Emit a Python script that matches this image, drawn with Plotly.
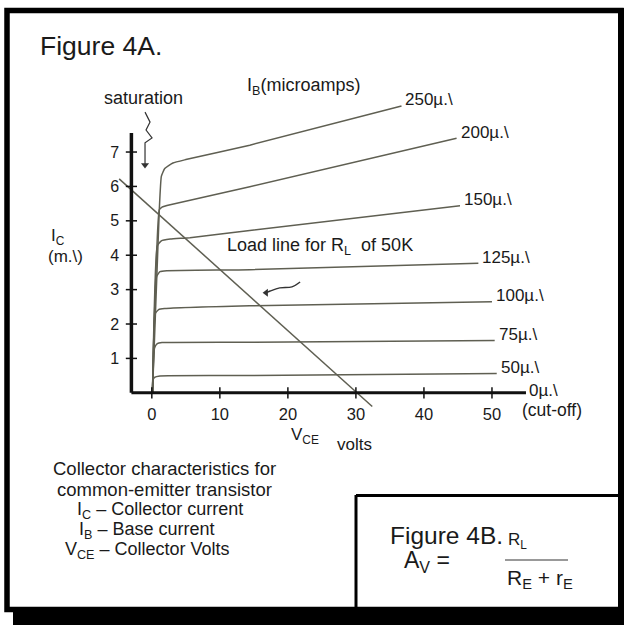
import plotly.graph_objects as go

# ---------------- data ----------------
vce_250 = [0.1, 1.1, 1.4, 1.9, 3.1, 5.0, 14.4, 36.7]
ic_250 = [0.0, 5.32, 6.29, 6.52, 6.68, 6.78, 7.20, 8.34]
vce_200 = [0.1, 1.1, 1.5, 2.7, 14.4, 44.8]
ic_200 = [0.0, 5.32, 5.40, 5.47, 5.99, 7.40]
vce_150 = [0.1, 0.8, 1.4, 2.7, 5.6, 14.4, 45.3]
ic_150 = [0.0, 4.27, 4.42, 4.47, 4.51, 4.72, 5.44]
vce_125 = [0.1, 0.7, 1.2, 2.2, 14.4, 48.0]
ic_125 = [0.0, 3.38, 3.52, 3.55, 3.58, 3.77]
vce_100 = [0.1, 0.5, 1.0, 1.9, 14.4, 50.0]
ic_100 = [0.0, 2.30, 2.42, 2.45, 2.53, 2.65]
vce_75 = [0.1, 0.4, 0.8, 1.5, 14.4, 50.4]
ic_75 = [0.0, 1.30, 1.43, 1.46, 1.47, 1.52]
vce_50 = [0.1, 0.15, 0.4, 1.2, 14.4, 50.7]
ic_50 = [0.0, 0.36, 0.45, 0.49, 0.50, 0.56]
vce_0 = [54.9]
ic_0 = [0.0]

ib_labels = ["250\u00b5.\\", "200\u00b5.\\", "150\u00b5.\\", "125\u00b5.\\",
             "100\u00b5.\\", "75\u00b5.\\", "50\u00b5.\\", "0\u00b5.\\"]

load_v = [-4.8, 32.4]
load_i = [6.22, -0.40]

x_ticks = [0, 10, 20, 30, 40, 50]
y_ticks = [1, 2, 3, 4, 5, 6, 7]
axis_v = [-3, 55]
axis_i_top = 7.55

sat_v = [-1.0, -0.26, -0.85, 0.03, -1.0, -1.0]
sat_i = [8.16, 7.87, 7.64, 7.41, 7.27, 6.62]
arr_v = [21.8, 20.6, 18.8, 17.4, 16.8]
arr_i = [3.22, 3.08, 3.05, 2.96, 2.91]

# ---------------- layout geometry ----------------
W_FIG, H_FIG = 624, 625
L, T, W, H = 111, 97, 449, 313
X_RANGE = [-6, 60]
Y_RANGE = [-0.5, 8.6]


def px(x):
    return (x - L) / W


def py(y):
    return (T + H - y) / H


CURVE = "#5f5f52"
TXT = "#1a1a1a"
FONT = "Liberation Sans, Arial, Helvetica, sans-serif"

fig = go.Figure()

curves = [(vce_250, ic_250), (vce_200, ic_200), (vce_150, ic_150), (vce_125, ic_125),
          (vce_100, ic_100), (vce_75, ic_75), (vce_50, ic_50)]
for v, i in curves:
    fig.add_trace(go.Scatter(x=v, y=i, mode="lines",
                             line=dict(color=CURVE, width=1.5, shape="spline", smoothing=0.4),
                             hoverinfo="skip", showlegend=False))

# load line
fig.add_trace(go.Scatter(x=load_v, y=load_i, mode="lines",
                         line=dict(color=CURVE, width=1.5), showlegend=False, hoverinfo="skip"))

# axes lines
fig.add_trace(go.Scatter(x=axis_v, y=[0, 0], mode="lines",
                         line=dict(color="#111", width=3), showlegend=False, hoverinfo="skip"))
fig.add_trace(go.Scatter(x=[axis_v[0], axis_v[0]], y=[0, axis_i_top], mode="lines",
                         line=dict(color="#111", width=3.5), showlegend=False, hoverinfo="skip"))
# cross ticks
fig.add_trace(go.Scatter(x=x_ticks, y=[0] * len(x_ticks), mode="markers",
                         marker=dict(symbol="line-ns", size=8, line=dict(color="#111", width=1.5)),
                         showlegend=False, hoverinfo="skip"))
fig.add_trace(go.Scatter(x=[axis_v[0]] * len(y_ticks), y=y_ticks, mode="markers",
                         marker=dict(symbol="line-ew", size=8, line=dict(color="#111", width=1.5)),
                         showlegend=False, hoverinfo="skip"))

# saturation squiggle arrow
fig.add_trace(go.Scatter(x=sat_v, y=sat_i, mode="lines",
                         line=dict(color="#333", width=1.2), showlegend=False, hoverinfo="skip"))
fig.add_trace(go.Scatter(x=[sat_v[-1]], y=[sat_i[-1]], mode="markers",
                         marker=dict(symbol="triangle-down", size=7, color="#333"),
                         showlegend=False, hoverinfo="skip"))
# load line pointer arrow
fig.add_trace(go.Scatter(x=arr_v, y=arr_i, mode="lines",
                         line=dict(color="#333", width=1.4, shape="spline"), showlegend=False, hoverinfo="skip"))
fig.add_trace(go.Scatter(x=[arr_v[-1]], y=[arr_i[-1]], mode="markers",
                         marker=dict(symbol="triangle-left", size=7, color="#333"),
                         showlegend=False, hoverinfo="skip"))

annotations = []

# curve labels at the end of each curve
ends = [(v[-1], i[-1]) for v, i in curves] + [(vce_0[-1], ic_0[-1])]
for k, ((ve, ie), lab) in enumerate(zip(ends, ib_labels)):
    annotations.append(dict(x=ve, y=ie, xref="x", yref="y", text=lab, showarrow=False,
                            xanchor="left", yanchor="middle", xshift=2,
                            yshift=(2 if k == len(ends) - 1 else 6),
                            font=dict(size=17, color=TXT, family=FONT)))


def txt(x, y, s, size=17, anchor="left"):
    annotations.append(dict(x=px(x), y=py(y), xref="paper", yref="paper", text=s,
                            showarrow=False, xanchor=anchor, yanchor="middle",
                            font=dict(size=size, color=TXT, family=FONT)))


txt(38, 46, "Figure 4A.", 26.5)
txt(245, 86, "I<sub>B</sub>(microamps)", 18)
txt(102, 98, "saturation", 18)
txt(58, 237, "I<sub>C</sub>", 17, "center")
txt(65, 256, "(m.\\)", 17, "center")
txt(225, 246, "Load line for R<sub>L</sub>  of 50K", 18)
txt(520, 410, "(cut-off)", 17.5)
txt(289, 436, "V<sub>CE</sub>", 17)
txt(335, 444, "volts", 17)
txt(164, 469, "Collector characteristics for", 18.5, "center")
txt(164, 489, "common-emitter transistor", 18.5, "center")
txt(75, 510, "I<sub>C</sub> \u2013 Collector current", 18)
txt(77, 530, "I<sub>B</sub> \u2013 Base current", 18)
txt(63, 550, "V<sub>CE</sub> \u2013 Collector Volts", 18)
txt(388, 535, "Figure 4B.", 24.5)
txt(506, 541, "R<sub>L</sub>", 17)
txt(402, 561, "A<sub>V</sub> =", 23)
txt(505, 579, "R<sub>E</sub> + r<sub>E</sub>", 21)

shapes = [
    # outer frame
    dict(type="rect", xref="paper", yref="paper", x0=px(7), x1=px(621), y0=py(609.5), y1=py(10.5),
         line=dict(color="#000", width=5.5)),
    # bottom shadow
    dict(type="rect", xref="paper", yref="paper", x0=px(13), x1=px(630), y0=py(630), y1=py(611),
         line=dict(width=0), fillcolor="#000"),
    # right edge strip
    dict(type="rect", xref="paper", yref="paper", x0=px(618), x1=px(630), y0=py(630), y1=py(8),
         line=dict(width=0), fillcolor="#000"),
    # figure 4B box
    dict(type="line", xref="paper", yref="paper", x0=px(356), x1=px(620), y0=py(495.5), y1=py(495.5),
         line=dict(color="#000", width=3)),
    dict(type="line", xref="paper", yref="paper", x0=px(356), x1=px(356), y0=py(495), y1=py(610),
         line=dict(color="#000", width=3)),
    # fraction bar
    dict(type="line", xref="paper", yref="paper", x0=px(505), x1=px(568), y0=py(560), y1=py(560),
         line=dict(color="#777", width=1.5)),
]

fig.update_layout(
    width=W_FIG, height=H_FIG,
    margin=dict(l=L, r=W_FIG - L - W, t=T, b=H_FIG - T - H, pad=0),
    paper_bgcolor="white", plot_bgcolor="white",
    showlegend=False,
    annotations=annotations, shapes=shapes,
    xaxis=dict(range=X_RANGE, showgrid=False, zeroline=False, showline=False,
               tickvals=x_ticks, ticktext=[str(t) for t in x_ticks],
               ticks="outside", ticklen=6, tickcolor="rgba(0,0,0,0)",
               tickfont=dict(size=16.5, color=TXT, family=FONT),
               anchor="free", position=(0 - Y_RANGE[0]) / (Y_RANGE[1] - Y_RANGE[0])),
    yaxis=dict(range=Y_RANGE, showgrid=False, zeroline=False, showline=False,
               tickvals=y_ticks, ticktext=[str(t) for t in y_ticks],
               ticks="outside", ticklen=9, tickcolor="rgba(0,0,0,0)",
               tickfont=dict(size=16, color=TXT, family=FONT),
               anchor="free", position=(axis_v[0] - X_RANGE[0]) / (X_RANGE[1] - X_RANGE[0])),
)

fig.write_html("out.html", config={"displayModeBar": False},
               post_script="document.body.style.margin='0';document.body.style.overflow='hidden';")
